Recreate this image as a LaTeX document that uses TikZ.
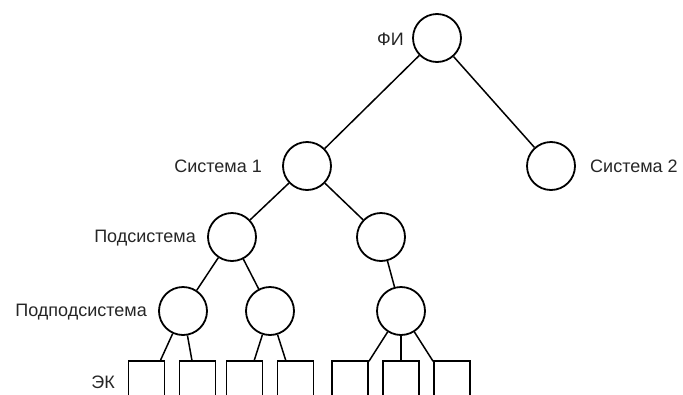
\documentclass[tikz,border=0pt]{standalone}
\usepackage{fontspec}
\setmainfont{Liberation Sans}
\begin{document}
\begin{tikzpicture}[x=1pt,y=-1pt,
  circ/.style={draw,circle,line width=1.8pt,inner sep=0pt,minimum size=48pt},
  ekbox/.style={draw,rectangle,line width=1.8pt,inner sep=0pt,minimum width=36pt,minimum height=60pt,anchor=north},
  conn/.style={line width=1.5pt},
  lbl/.style={font=\fontsize{18pt}{20pt}\selectfont,inner sep=0pt,text=black!85}]
\useasboundingbox (0,0) rectangle (683,394);
\clip (0,0) rectangle (683,394);
\node[circ] (fi) at (437,38) {};
\node[circ] (s1) at (307,166) {};
\node[circ] (s2) at (551,166) {};
\node[circ] (p1) at (232,237) {};
\node[circ] (p2) at (381,237) {};
\node[circ] (q1) at (183,311) {};
\node[circ] (q2) at (270,311) {};
\node[circ] (q3) at (401,311) {};
\node[ekbox] (b1) at (146.5,360) {};
\node[ekbox] (b2) at (197.5,360) {};
\node[ekbox] (b3) at (244.5,360) {};
\node[ekbox] (b4) at (295.5,360) {};
\node[ekbox] (b5) at (350,360) {};
\node[ekbox] (b6) at (401,360) {};
\node[ekbox] (b7) at (452,360) {};
\node[lbl,anchor=east] (lfi) at (404,39) {ФИ};
\node[lbl,anchor=east] (ls1) at (262,166) {Система 1};
\node[lbl,anchor=west] (ls2) at (590,166) {Система 2};
\node[lbl,anchor=east] (lp) at (196,238) {Подсистема};
\node[lbl,anchor=east] (lq) at (147,312) {Подподсистема};
\node[lbl,anchor=east] (lek) at (115,382) {ЭК};
\draw[conn] (fi) -- (s1);
\draw[conn] (fi) -- (s2);
\draw[conn] (s1) -- (p1);
\draw[conn] (s1) -- (p2);
\draw[conn] (p1) -- (q1);
\draw[conn] (p1) -- (q2);
\draw[conn] (p2) -- (q3);
\draw[conn] (q1) -- (b1);
\draw[conn] (q1) -- (b2);
\draw[conn] (q2) -- (b3);
\draw[conn] (q2) -- (b4);
\draw[conn] (q3) -- (b5);
\draw[conn] (q3) -- (b6);
\draw[conn] (q3) -- (b7);
\end{tikzpicture}
\end{document}
